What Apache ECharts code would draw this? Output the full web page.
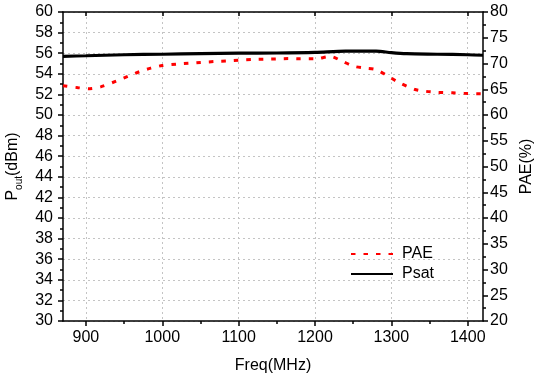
<!DOCTYPE html>
<html><head><meta charset="utf-8">
<script src="https://cdn.jsdelivr.net/npm/echarts@6/dist/echarts.min.js"></script>
<style>html,body{margin:0;padding:0;background:#fff}#c{width:534px;height:382px}</style>
</head><body><div id="c"></div>
<script>
// ---- data ----
const xMajorTicks = [900, 1000, 1100, 1200, 1300, 1400];
const xMinorTicks = [950, 1050, 1150, 1250, 1350];
const paeFreq = [870, 890, 905, 920, 940, 955, 970, 985, 1000, 1020, 1035, 1050, 1070, 1085, 1100, 1120, 1135, 1150, 1165, 1180, 1200, 1220, 1235, 1250, 1265, 1280, 1295, 1310, 1330, 1345, 1360, 1380, 1395, 1420];
const paeValues = [65.7, 65.3, 65.1, 65.5, 66.6, 67.5, 68.4, 69.1, 69.6, 69.9, 70.05, 70.2, 70.4, 70.5, 70.65, 70.8, 70.85, 70.9, 70.95, 70.9, 70.9, 71.35, 70.5, 69.5, 69.1, 68.8, 67.6, 66.3, 65.0, 64.6, 64.4, 64.3, 64.2, 64.1];
const psatFreq = [870, 900, 950, 1000, 1050, 1100, 1150, 1200, 1240, 1280, 1300, 1320, 1360, 1400, 1420];
const psatValues = [55.7, 55.75, 55.85, 55.9, 55.95, 56.0, 56.02, 56.08, 56.2, 56.2, 56.05, 55.95, 55.9, 55.85, 55.8];

const FONT = 'Liberation Sans, Arial, sans-serif';
const axisColor = '#000';
const chart = echarts.init(document.getElementById('c'), null, {renderer: 'canvas'});
const lineSt = {color: axisColor, width: 1.5};
const gridSt = {type: [2, 3], color: '#c4c4c4', width: 1};

const option = {
  animation: false,
  backgroundColor: '#fff',
  grid: {left: 63, right: 51, top: 12, bottom: 61, containLabel: false, outerBoundsMode: 'none'},
  legend: {
    orient: 'vertical', left: 345, top: 241, itemWidth: 42, itemHeight: 14, itemGap: 4,
    textStyle: {fontFamily: FONT, fontSize: 16, color: '#000', padding: [0, 0, 0, 4]},
    itemStyle: {opacity: 0},
    data: ['PAE', 'Psat']
  },
  xAxis: [
    {
      type: 'value', min: 870, max: 1420, position: 'bottom',
      axisLine: {show: true, onZero: false, lineStyle: lineSt},
      axisTick: {show: true, inside: false, length: 5, customValues: xMajorTicks, lineStyle: lineSt},
      axisLabel: {customValues: xMajorTicks, fontFamily: FONT, fontSize: 16, color: '#000', margin: 9,
                  formatter: v => String(v)},
      splitLine: {show: true, lineStyle: gridSt},
      name: 'Freq(MHz)', nameLocation: 'middle', nameGap: 37,
      nameTextStyle: {fontFamily: FONT, fontSize: 16, color: '#000'}
    },
    {
      type: 'value', min: 870, max: 1420, position: 'bottom',
      axisLine: {show: false},
      axisTick: {show: true, inside: false, length: 3, customValues: xMinorTicks, lineStyle: lineSt},
      axisLabel: {show: false}, splitLine: {show: false}
    },
    {
      type: 'value', min: 870, max: 1420, position: 'top',
      axisLine: {show: true, onZero: false, lineStyle: lineSt},
      axisTick: {show: true, inside: true, length: 4, customValues: xMajorTicks, lineStyle: lineSt},
      axisLabel: {show: false}, splitLine: {show: false}
    }
  ],
  yAxis: [
    {
      type: 'value', min: 30, max: 60, interval: 2, position: 'left',
      axisLine: {show: true, onZero: false, lineStyle: lineSt},
      axisTick: {show: true, inside: false, length: 5, lineStyle: lineSt},
      minorTick: {show: true, splitNumber: 2, length: 3, lineStyle: lineSt},
      axisLabel: {fontFamily: FONT, fontSize: 16, color: '#000', margin: 10},
      splitLine: {show: true, lineStyle: gridSt},
      name: '{m|P}{s|out}{m|(dBm)}', nameLocation: 'middle', nameGap: 33, nameRotate: 90,
      nameTextStyle: {
        fontFamily: FONT, fontSize: 16, color: '#000',
        rich: {
          m: {fontFamily: FONT, fontSize: 16, color: '#000', lineHeight: 20, verticalAlign: 'top'},
          s: {fontFamily: FONT, fontSize: 10, color: '#000', lineHeight: 20, verticalAlign: 'bottom', padding: [8, 0, 0, 0]}
        }
      }
    },
    {
      type: 'value', min: 20, max: 80, interval: 5, position: 'right',
      axisLine: {show: true, onZero: false, lineStyle: lineSt},
      axisTick: {show: true, inside: false, length: 5, lineStyle: lineSt},
      minorTick: {show: true, splitNumber: 2, length: 3, lineStyle: lineSt},
      axisLabel: {fontFamily: FONT, fontSize: 16, color: '#000', margin: 7},
      splitLine: {show: false},
      name: 'PAE(%)', nameLocation: 'middle', nameGap: 34, nameRotate: 90,
      nameTextStyle: {fontFamily: FONT, fontSize: 16, color: '#000'}
    }
  ],
  series: [
    {
      name: 'PAE', type: 'line', xAxisIndex: 0, yAxisIndex: 1, smooth: 0.3,
      symbol: 'none', showSymbol: false,
      lineStyle: {color: '#ff0000', width: 3, type: [4.5, 8], cap: 'butt'},
      itemStyle: {color: '#ff0000'},
      data: paeFreq.map((f, i) => [f, paeValues[i]])
    },
    {
      name: 'Psat', type: 'line', xAxisIndex: 0, yAxisIndex: 0, smooth: 0.3,
      symbol: 'none', showSymbol: false,
      lineStyle: {color: '#000', width: 3.2},
      itemStyle: {color: '#000'},
      data: psatFreq.map((f, i) => [f, psatValues[i]])
    }
  ]
};
chart.setOption(option);
</script></body></html>
